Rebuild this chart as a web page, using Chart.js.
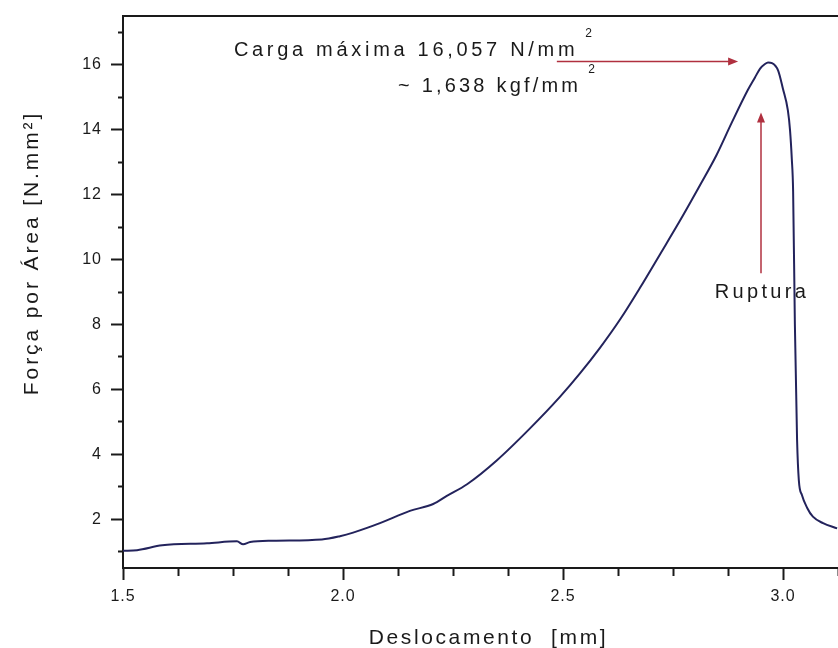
<!DOCTYPE html>
<html>
<head>
<meta charset="utf-8">
<script src="https://cdn.jsdelivr.net/npm/chart.js@4.4.1/dist/chart.umd.min.js"></script>
<style>
  html, body { margin: 0; padding: 0; background: #fff; }
  #wrap { width: 838px; height: 648px; position: relative; }
</style>
</head>
<body>
<div id="wrap"><canvas id="curve"></canvas></div>
<script>
// displacement [mm] vs stress [N/mm²]
const deslocamento = [1.500, 1.532, 1.589, 1.691, 1.759, 1.773, 1.789, 1.841, 1.952, 1.993,
  2.023, 2.084, 2.152, 2.205, 2.236, 2.282, 2.350, 2.425, 2.493, 2.539,
  2.584, 2.630, 2.675, 2.720, 2.766, 2.811, 2.849, 2.883, 2.920, 2.936,
  2.948, 2.959, 2.966, 2.975, 2.989, 3.000, 3.011, 3.016, 3.020, 3.023,
  3.027, 3.032, 3.036, 3.043, 3.055, 3.068, 3.091, 3.123];
const forcaArea = [1.03, 1.05, 1.20, 1.26, 1.32, 1.23, 1.30, 1.34, 1.38, 1.48,
  1.59, 1.88, 2.26, 2.47, 2.72, 3.08, 3.82, 4.80, 5.77, 6.50,
  7.28, 8.16, 9.13, 10.15, 11.20, 12.28, 13.22, 14.20, 15.22, 15.60,
  15.88, 16.02, 16.07, 16.05, 15.82, 15.25, 14.60, 13.98, 13.10, 12.10,
  8.00, 4.44, 3.20, 2.75, 2.35, 2.08, 1.88, 1.72];

// ticks
const xMajor = [1.5, 2.0, 2.5, 3.0];
const xMinor = [1.625, 1.75, 1.875, 2.125, 2.25, 2.375, 2.625, 2.75, 2.875, 3.125];
const yMajor = [2, 4, 6, 8, 10, 12, 14, 16];
const yMinor = [1, 3, 5, 7, 9, 11, 13, 15, 17];

// annotations (data units)
const notes = [
  { text: "Carga máxima 16,057 N/mm", sup: "2", x: 1.752, y: 16.28 },
  { text: "~ 1,638 kgf/mm", sup: "2", x: 2.125, y: 15.15 },
  { text: "Ruptura", sup: "", x: 2.845, y: 8.82 }
];
const noteSpacing = ["3.7px", "3.2px", "3.3px"];
const arrows = [
  { x1: 2.486, y1: 16.1, x2: 2.898, y2: 16.1 },
  { x1: 2.950, y1: 9.58, x2: 2.950, y2: 14.53 }
];

const FONT = "'Liberation Sans', Arial, sans-serif";
const INK = "#1a1a1a";
const ARROW = "#b0303f";

Chart.defaults.font.family = FONT;
Chart.defaults.color = INK;

function fixTicks(list) {
  return scale => { scale.ticks = list.map(v => ({ value: v })); };
}

const annotate = {
  id: "annotate",
  beforeDraw(chart) {
    chart.ctx.letterSpacing = "1px";
  },
  afterDraw(chart) {
    const { ctx, scales: { x, y }, chartArea } = chart;
    ctx.save();

    // arrows
    ctx.strokeStyle = ARROW;
    ctx.fillStyle = ARROW;
    ctx.lineWidth = 1.5;
    arrows.forEach(a => {
      const px1 = x.getPixelForValue(a.x1), py1 = y.getPixelForValue(a.y1);
      const px2 = x.getPixelForValue(a.x2), py2 = y.getPixelForValue(a.y2);
      const c = Math.cos(Math.atan2(py2 - py1, px2 - px1));
      const s = Math.sin(Math.atan2(py2 - py1, px2 - px1));
      ctx.beginPath();
      ctx.moveTo(px1, py1);
      ctx.lineTo(px2 - 6 * c, py2 - 6 * s);
      ctx.stroke();
      ctx.beginPath();
      ctx.moveTo(px2, py2);
      ctx.lineTo(px2 - 10 * c - 4 * s, py2 - 10 * s + 4 * c);
      ctx.lineTo(px2 - 10 * c + 4 * s, py2 - 10 * s - 4 * c);
      ctx.closePath();
      ctx.fill();
    });

    // notes
    ctx.fillStyle = INK;
    ctx.textBaseline = "alphabetic";
    ctx.textAlign = "left";
    notes.forEach((n, i) => {
      const px = x.getPixelForValue(n.x), py = y.getPixelForValue(n.y);
      ctx.font = "20px " + FONT;
      ctx.letterSpacing = noteSpacing[i];
      ctx.fillText(n.text, px, py);
      if (n.sup) {
        const w = ctx.measureText(n.text).width;
        ctx.font = "12px " + FONT;
        ctx.letterSpacing = "0px";
        ctx.fillText(n.sup, px + w + 7, py - 19);
      }
    });

    // axis titles
    ctx.font = "21px " + FONT;
    ctx.letterSpacing = "2.6px";
    ctx.textAlign = "center";
    ctx.textBaseline = "middle";
    ctx.fillText("Deslocamento  [mm]", (chartArea.left + chartArea.right) / 2 + 8, chartArea.bottom + 70);

    ctx.translate(32, chartArea.top + 237);
    ctx.rotate(-Math.PI / 2);
    ctx.letterSpacing = "2.9px";
    ctx.fillText("Força por Área [N.mm²]", 0, 0);
    ctx.restore();
  }
};

const axisBorder = { display: true, color: INK, width: 2 };

function fitY(w) {
  return s => { s.width = w; s.paddingTop = 0; s.paddingBottom = 0; };
}
function fitX(h) {
  return s => { s.height = h; s.paddingLeft = 0; s.paddingRight = 0; };
}

new Chart(document.getElementById("curve"), {
  type: "line",
  data: {
    datasets: [{
      data: deslocamento.map((d, i) => ({ x: d, y: forcaArea[i] })),
      borderColor: "#23235c",
      borderWidth: 2,
      pointRadius: 0,
      cubicInterpolationMode: "monotone",
      fill: false
    }]
  },
  options: {
    responsive: true,
    maintainAspectRatio: false,
    animation: false,
    layout: { padding: { top: 16, right: 0, left: 0, bottom: 0 } },
    plugins: { legend: { display: false }, tooltip: { enabled: false } },
    scales: {
      x: {
        type: "linear", position: "bottom", weight: 1,
        min: 1.5, max: 3.125,
        afterBuildTicks: fixTicks(xMajor),
        afterFit: fitX(80),
        border: axisBorder,
        grid: { drawOnChartArea: false, drawTicks: true, tickLength: 12, tickWidth: 2, tickColor: INK },
        ticks: { font: { size: 16 }, padding: 7, color: INK, autoSkip: false, maxRotation: 0,
          callback: v => v.toFixed(1) }
      },
      xMin: {
        type: "linear", position: "bottom", weight: 0,
        min: 1.5, max: 3.125,
        afterBuildTicks: fixTicks(xMinor),
        afterFit: fitX(0),
        border: axisBorder,
        grid: { drawOnChartArea: false, drawTicks: true, tickLength: 8, tickWidth: 2, tickColor: INK },
        ticks: { display: false, autoSkip: false }
      },
      xTop: {
        type: "linear", position: "top",
        min: 1.5, max: 3.125,
        afterFit: fitX(0),
        border: axisBorder,
        grid: { display: false, drawTicks: false },
        ticks: { display: false }
      },
      y: {
        type: "linear", position: "left", weight: 1,
        min: 0.5, max: 17.5,
        afterBuildTicks: fixTicks(yMajor),
        afterFit: fitY(123),
        border: axisBorder,
        grid: { drawOnChartArea: false, drawTicks: true, tickLength: 12, tickWidth: 2, tickColor: INK },
        ticks: { font: { size: 16 }, padding: 9, color: INK, autoSkip: false,
          callback: v => String(v) }
      },
      yMin: {
        type: "linear", position: "left", weight: 0,
        min: 0.5, max: 17.5,
        afterBuildTicks: fixTicks(yMinor),
        afterFit: fitY(0),
        border: axisBorder,
        grid: { drawOnChartArea: false, drawTicks: true, tickLength: 5, tickWidth: 2, tickColor: INK },
        ticks: { display: false, autoSkip: false }
      }
    }
  },
  plugins: [annotate]
});
</script>
</body>
</html>
